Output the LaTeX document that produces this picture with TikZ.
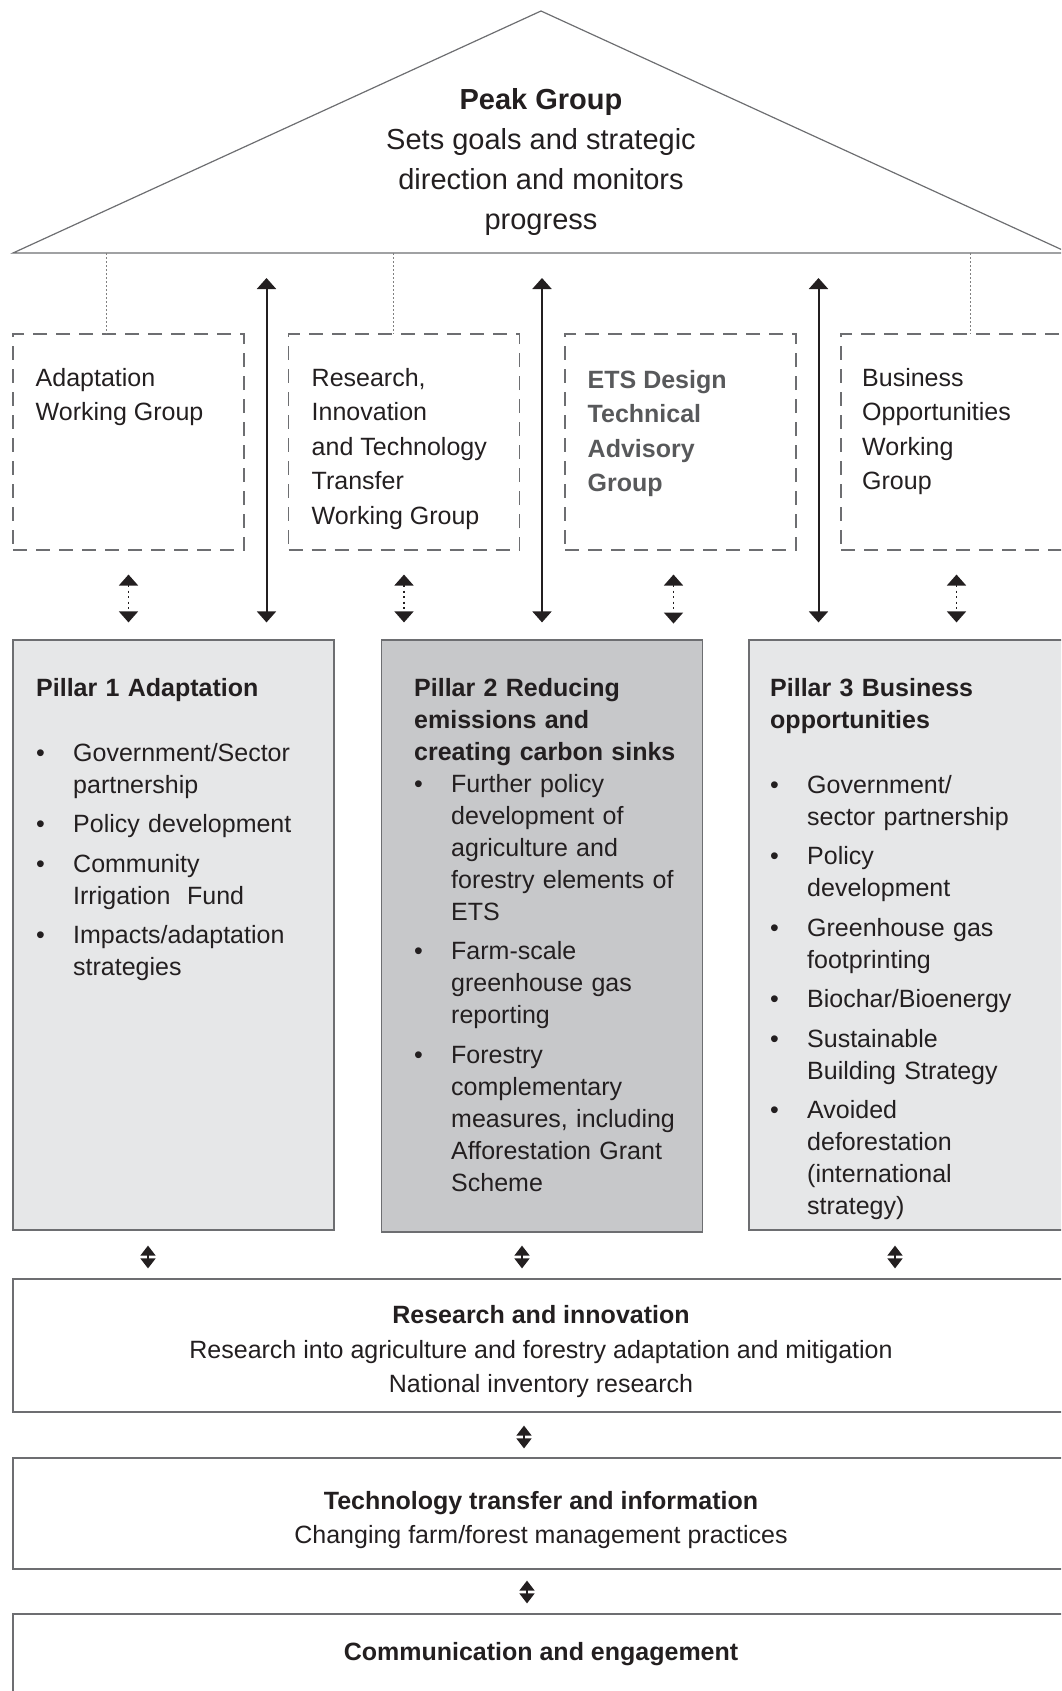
\documentclass[tikz,border=0pt]{standalone}
\usepackage{fontspec}
\setmainfont{Liberation Sans}
\usepackage{xcolor}
\usepackage{tikz}
\usetikzlibrary{arrows.meta}

\definecolor{pillarlight}{HTML}{E6E7E8}
\definecolor{pillardark}{HTML}{C7C8CA}
\definecolor{edgegray}{HTML}{6D6E71}
\definecolor{etsgray}{HTML}{58595B}
\definecolor{inkblack}{HTML}{231F20}

\newenvironment{pillarlist}[1]{%
  \begin{list}{\textbullet\hfill}{%
    \setlength{\topsep}{#1}\setlength{\partopsep}{0pt}%
    \setlength{\parsep}{0pt}\setlength{\itemsep}{7.5pt}%
    \setlength{\leftmargin}{37pt}\setlength{\labelwidth}{10pt}%
    \setlength{\labelsep}{27pt}}}%
  {\end{list}}

\begin{document}
\begin{tikzpicture}[
    x=1pt, y=-1pt,
    peakline/.style={draw=edgegray, line width=1.2pt},
    peaktext/.style={anchor=north, align=center, inner sep=0pt, text=inkblack, font=\fontsize{29}{40}\selectfont},
    wgbox/.style={rectangle, draw=edgegray, line width=1.1pt, dash pattern=on 14pt off 9pt, minimum width=231pt, minimum height=216pt},
    wgtext/.style={anchor=north west, align=left, inner sep=0pt, text=inkblack, font=\fontsize{25}{34.5}\selectfont},
    pillarbox/.style={rectangle, draw=edgegray, line width=1.2pt, minimum width=321pt, minimum height=590pt},
    pillartext/.style={anchor=north west, align=left, inner sep=0pt, text width=265pt, text=inkblack, font=\fontsize{25}{32}\selectfont},
    layerbox/.style={rectangle, draw=edgegray, line width=1.2pt, minimum width=1056pt},
    layertext/.style={align=center, inner sep=0pt, text=inkblack, font=\fontsize{25}{34.5}\selectfont},
    mainarrow/.style={<->, >={Triangle[width=19pt,length=11pt]}, line width=2pt, color=inkblack},
    dotarrow/.style={<->, >={Triangle[width=19pt,length=11pt]}, line width=1.8pt, dash pattern=on 2pt off 3.5pt, color=inkblack},
    minarrow/.style={<->, >={Triangle[width=15pt,length=10pt]}, line width=1.5pt, color=inkblack},
    thinlink/.style={draw=gray, line width=0.8pt, dash pattern=on 2pt off 2pt}
]
\useasboundingbox (0,0) rectangle (1061,1691);
\clip (0,0) rectangle (1061,1691);

% Peak group roof
\coordinate (baseL) at (13,253);
\coordinate (apex) at (541,11);
\coordinate (baseR) at (1069,253);
\draw [peakline] (baseL) -- (apex) -- (baseR) -- cycle;
\node [peaktext] (peak) at (541,88) {\textbf{Peak Group}\\Sets goals and strategic\\direction and monitors\\progress};

% Working groups
\node [wgbox] (wg1) at (128.5,442) {};
\node [wgbox] (wg2) at (404,442) {};
\node [wgbox] (wg3) at (680.5,442) {};
\node [wgbox] (wg4) at (956.5,442) {};
\node [wgtext] (wg1text) at (35.5,368) {Adaptation\\Working Group};
\node [wgtext] (wg2text) at (311.5,368) {Research,\\Innovation\\and Technology\\Transfer\\Working Group};
\node [wgtext, text=etsgray, font=\fontsize{25}{34.5}\selectfont\bfseries] (wg3text) at (587.5,370) {ETS Design\\Technical\\Advisory\\Group};
\node [wgtext] (wg4text) at (862,368) {Business\\Opportunities\\Working\\Group};

% Pillars
\node [pillarbox, fill=pillarlight] (pillar1) at (173.5,935) {};
\node [pillarbox, fill=pillardark, minimum height=592pt] (pillar2) at (542,936) {};
\node [pillarbox, fill=pillarlight] (pillar3) at (909.5,935) {};

\node [pillartext] (p1text) at (36,678) {\textbf{Pillar 1 Adaptation}
\begin{pillarlist}{33pt}
\item Government/Sector\newline partnership
\item Policy development
\item Community\newline Irrigation\ \ Fund
\item Impacts/adaptation\newline strategies
\end{pillarlist}};
\node [pillartext] (p2text) at (414,678) {\textbf{Pillar 2 Reducing\\emissions and\\creating carbon sinks}
\begin{pillarlist}{0pt}
\item Further policy\newline development of\newline agriculture and\newline forestry elements of\newline ETS
\item Farm-scale\newline greenhouse gas\newline reporting
\item Forestry\newline complementary\newline measures, including\newline Afforestation Grant\newline Scheme
\end{pillarlist}};
\node [pillartext] (p3text) at (770,678) {\textbf{Pillar 3 Business\\opportunities}
\begin{pillarlist}{33pt}
\item Government/\newline sector partnership
\item Policy\newline development
\item Greenhouse gas\newline footprinting
\item Biochar/Bioenergy
\item Sustainable\newline Building Strategy
\item Avoided\newline deforestation\newline (international\newline strategy)
\end{pillarlist}};

% Cross-cutting layers
\node [layerbox, minimum height=133pt] (research) at (541,1345.5) {};
\node [layerbox, minimum height=111pt] (techtransfer) at (541,1513.5) {};
\node [layerbox, minimum height=80pt] (communication) at (541,1654) {};
\node [layertext] (researchtext) at (541,1352) {\textbf{Research and innovation}\\Research into agriculture and forestry adaptation and mitigation\\National inventory research};
\node [layertext] (techtext) at (541,1520) {\textbf{Technology transfer and information}\\Changing farm/forest management practices};
\node [layertext] (commtext) at (541,1654) {\textbf{Communication and engagement}};

% Links from the roof down to the working groups
\coordinate (l1) at (106,253);
\coordinate (l2) at (393,253);
\coordinate (l4) at (970,253);
\draw [thinlink] (l1) -- (l1 |- wg1.north);
\draw [thinlink] (l2) -- (l2 |- wg2.north);
\draw [thinlink] (l4) -- (l4 |- wg4.north);

% Roof to pillars
\coordinate (s1) at (266.5,253);
\coordinate (s2) at (542,253);
\coordinate (s3) at (818.5,253);
\draw [mainarrow, shorten <=25pt, shorten >=17pt] (s1) -- (s1 |- pillar1.north);
\draw [mainarrow, shorten <=25pt, shorten >=17pt] (s2) -- (s2 |- pillar2.north);
\draw [mainarrow, shorten <=25pt, shorten >=17pt] (s3) -- (s3 |- pillar3.north);

% Working groups to pillars
\draw [dotarrow, shorten <=24pt, shorten >=17pt] (wg1.south) -- (wg1.south |- pillar1.north);
\draw [dotarrow, shorten <=24pt, shorten >=17pt] (wg2.south) -- (wg2.south |- pillar2.north);
\draw [dotarrow, shorten <=24pt, shorten >=17pt] ([xshift=-7pt]wg3.south) -- ++(0,90);
\draw [dotarrow, shorten <=24pt, shorten >=17pt] (wg4.south) -- (wg4.south |- pillar3.north);

% Pillars to research, and between layers
\coordinate (m1) at (148,0);
\coordinate (m2) at (522,0);
\coordinate (m3) at (895,0);
\coordinate (k1) at (524,0);
\coordinate (k2) at (527,0);
\draw [minarrow, shorten <=15pt, shorten >=10pt] (pillar1.south -| m1) -- (research.north -| m1);
\draw [minarrow, shorten <=13pt, shorten >=10pt] (pillar2.south -| m2) -- (research.north -| m2);
\draw [minarrow, shorten <=15pt, shorten >=10pt] (pillar3.south -| m3) -- (research.north -| m3);
\draw [minarrow, shorten <=13pt, shorten >=9pt] (research.south -| k1) -- (techtransfer.north -| k1);
\draw [minarrow, shorten <=11pt, shorten >=10pt] (techtransfer.south -| k2) -- (communication.north -| k2);

\end{tikzpicture}
\end{document}
